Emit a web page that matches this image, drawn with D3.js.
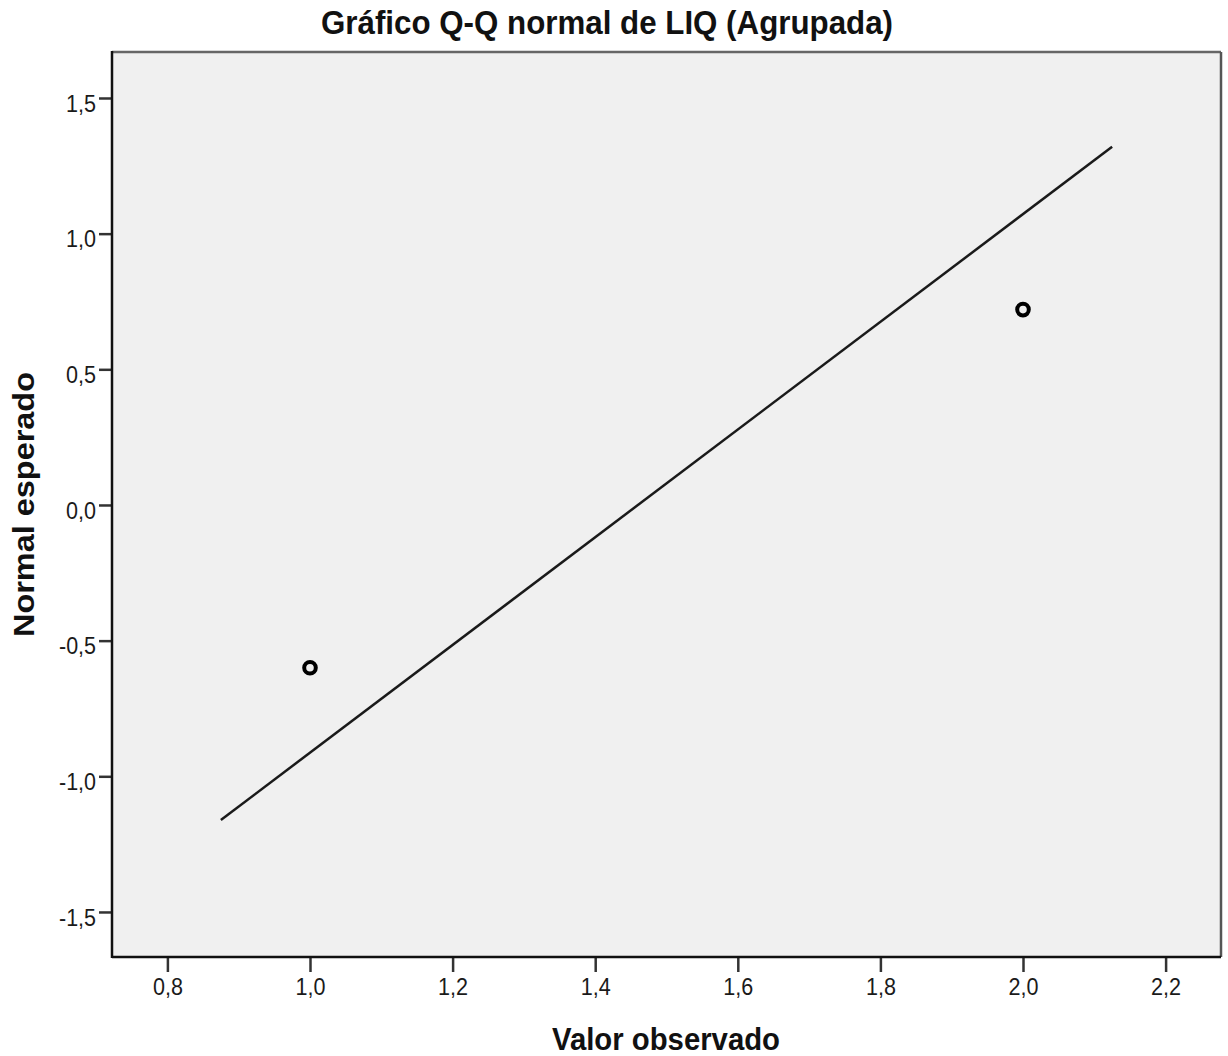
<!DOCTYPE html>
<html>
<head>
<meta charset="utf-8">
<script src="https://cdn.jsdelivr.net/npm/d3@7"></script>
<style>
    body { margin: 0; background: #fff; }
    svg { display: block; }
</style>
</head>
<body>
<script>
// observed values and their expected normal quantiles
const observed = [1.0, 2.0];
const expectedNormal = [-0.60, 0.72];

// reference line endpoints
const lineX = [0.875, 2.125];
const lineY = [-1.161, 1.32];

const xTicks = [0.8, 1.0, 1.2, 1.4, 1.6, 1.8, 2.0, 2.2];
const yTicks = [-1.5, -1.0, -0.5, 0.0, 0.5, 1.0, 1.5];

const titleText = "Gráfico Q-Q normal de LIQ (Agrupada)";
const xLabel = "Valor observado";
const yLabel = "Normal esperado";

const svgData = {
    width: 1228,
    height: 1056,
    left: 112,
    right: 1221,
    top: 52,
    bottom: 957
}

const locale = d3.formatLocale({
    decimal: ",", thousands: ".", grouping: [3], currency: ["", ""], minus: "-"
});
const fmt = locale.format(".1f");

const svg = d3.select("body").append("svg")
    .attr("width", svgData.width)
    .attr("height", svgData.height);

const scaleX = d3.scaleLinear()
    .domain([0.7223, 2.2777])
    .range([svgData.left, svgData.right]);
const scaleY = d3.scaleLinear()
    .domain([-1.666, 1.6695])
    .range([svgData.bottom, svgData.top]);

// plot background
svg.append("rect")
    .attr("x", svgData.left)
    .attr("y", svgData.top)
    .attr("width", svgData.right - svgData.left)
    .attr("height", svgData.bottom - svgData.top)
    .attr("fill", "#f0f0f0");

// axes
const xAxis = d3.axisBottom(scaleX).tickValues(xTicks).tickFormat(fmt).tickSize(15).tickPadding(7);
const yAxis = d3.axisLeft(scaleY).tickValues(yTicks).tickFormat(fmt).tickSize(13).tickPadding(3);

const gx = svg.append("g")
    .attr("transform", "translate(0," + svgData.bottom + ")")
    .call(xAxis);
const gy = svg.append("g")
    .attr("transform", "translate(" + svgData.left + ",0)")
    .call(yAxis);

[gx, gy].forEach(g => {
    g.select(".domain").remove();
    g.selectAll(".tick line").attr("stroke", "#333").attr("stroke-width", 2.5);
    g.selectAll(".tick text")
        .attr("fill", "#1a1a1a")
        .attr("textLength", d => d < 0 ? 37 : 30)
        .attr("lengthAdjust", "spacingAndGlyphs")
        .style("font-family", "'Liberation Sans', Arial, sans-serif")
        .style("font-size", "23px");
});
gx.selectAll(".tick text").attr("dy", "0.71em");
gy.selectAll(".tick text").attr("dy", "0.58em");

// frame
svg.append("line")
    .attr("x1", svgData.left).attr("x2", svgData.right)
    .attr("y1", svgData.top).attr("y2", svgData.top)
    .attr("stroke", "#666").attr("stroke-width", 2.5);
svg.append("line")
    .attr("x1", svgData.right).attr("x2", svgData.right)
    .attr("y1", svgData.top).attr("y2", svgData.bottom)
    .attr("stroke", "#555").attr("stroke-width", 2.5);
svg.append("line")
    .attr("x1", svgData.left).attr("x2", svgData.left)
    .attr("y1", svgData.top - 1).attr("y2", svgData.bottom + 1)
    .attr("stroke", "#111").attr("stroke-width", 2.5);
svg.append("line")
    .attr("x1", svgData.left).attr("x2", svgData.right)
    .attr("y1", svgData.bottom).attr("y2", svgData.bottom)
    .attr("stroke", "#111").attr("stroke-width", 2.5);

// reference line
svg.append("path")
    .datum(lineX.map((x, i) => [x, lineY[i]]))
    .attr("fill", "none")
    .attr("stroke", "#1a1a1a")
    .attr("stroke-width", 2.5)
    .attr("d", d3.line().x(d => scaleX(d[0])).y(d => scaleY(d[1])));

// points
svg.selectAll("circle.pt")
    .data(observed)
    .enter()
    .append("circle")
    .attr("class", "pt")
    .attr("cx", d => scaleX(d))
    .attr("cy", (d, i) => scaleY(expectedNormal[i]))
    .attr("r", 5.8)
    .attr("fill", "none")
    .attr("stroke", "#000")
    .attr("stroke-width", 4);

// title and axis labels
const boldFont = "'Liberation Sans', Arial, sans-serif";
svg.append("text")
    .attr("x", 321)
    .attr("y", 34)
    .attr("textLength", 572)
    .attr("lengthAdjust", "spacingAndGlyphs")
    .style("font-family", boldFont)
    .style("font-weight", "bold")
    .style("font-size", "32.5px")
    .attr("fill", "#111")
    .text(titleText);

svg.append("text")
    .attr("x", 552)
    .attr("y", 1050)
    .attr("textLength", 228)
    .attr("lengthAdjust", "spacingAndGlyphs")
    .style("font-family", boldFont)
    .style("font-weight", "bold")
    .style("font-size", "31px")
    .attr("fill", "#111")
    .text(xLabel);

svg.append("text")
    .attr("transform", "translate(34," + ((svgData.top + svgData.bottom) / 2) + ") rotate(-90)")
    .attr("text-anchor", "middle")
    .attr("textLength", 265)
    .attr("lengthAdjust", "spacingAndGlyphs")
    .style("font-family", boldFont)
    .style("font-weight", "bold")
    .style("font-size", "29px")
    .attr("fill", "#111")
    .text(yLabel);
</script>
</body>
</html>
